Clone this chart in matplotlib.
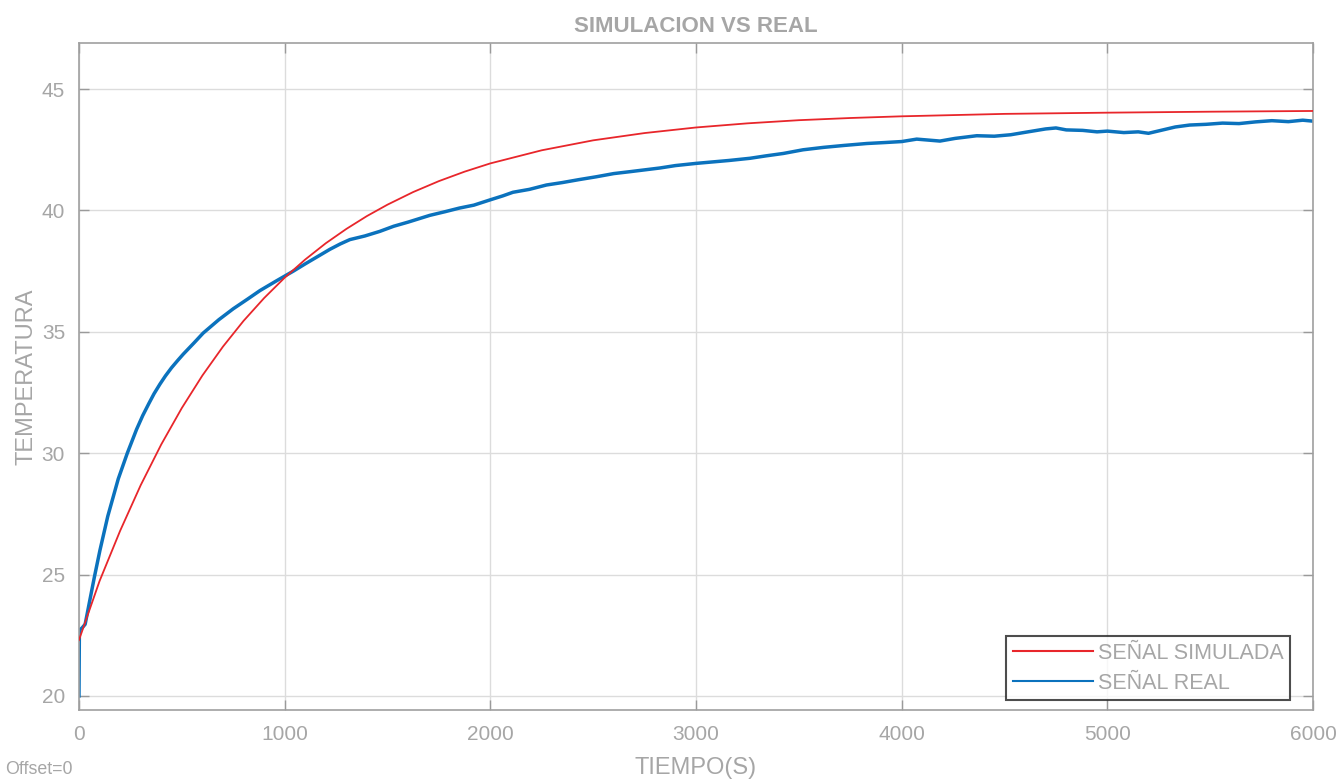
import matplotlib.pyplot as plt

# simulated response
t_sim = [0, 100, 200, 300, 400, 500, 600, 700, 800, 900, 1000, 1100, 1200,
         1300, 1400, 1500, 1625, 1750, 1875, 2000, 2250, 2500, 2750, 3000,
         3250, 3500, 3750, 4000, 4500, 5000, 5500, 6000]
temp_sim = [22.3, 24.73, 26.80, 28.68, 30.36, 31.86, 33.20, 34.39, 35.45, 36.39,
            37.23, 37.98, 38.65, 39.24, 39.77, 40.24, 40.76, 41.21, 41.60, 41.94,
            42.48, 42.89, 43.19, 43.42, 43.59, 43.72, 43.81, 43.88, 43.98, 44.03,
            44.07, 44.10]

t_real = [0, 2, 15, 30, 53, 75, 102, 140, 191, 235, 280, 310, 340, 365, 394,
          420, 450, 480, 507, 560, 604, 680, 750, 820, 880, 960, 1042, 1100,
          1160, 1220, 1270, 1317, 1390, 1463, 1530, 1600, 1706, 1780, 1850,
          1920, 2000, 2060, 2110, 2190, 2273, 2350, 2430, 2516, 2600, 2680,
          2776, 2824, 2900, 3000, 3080, 3160, 3262, 3340, 3425, 3520, 3620,
          3720, 3831, 3920, 4000, 4073, 4130, 4186, 4260, 4365, 4450, 4530,
          4600, 4700, 4750, 4800, 4880, 4950, 5000, 5080, 5150, 5200, 5260,
          5330, 5400, 5480, 5560, 5640, 5720, 5800, 5880, 5950, 6000]
temp_real = [20.0, 22.7, 22.8, 22.95, 23.95, 24.9, 26.0, 27.4, 28.94, 30.0,
             30.98, 31.55, 32.05, 32.45, 32.85, 33.18, 33.52, 33.82, 34.08,
             34.55, 34.95, 35.5, 35.95, 36.35, 36.7, 37.1, 37.5, 37.8, 38.1,
             38.4, 38.62, 38.8, 38.95, 39.14, 39.35, 39.52, 39.8, 39.95, 40.1,
             40.22, 40.44, 40.6, 40.75, 40.87, 41.05, 41.15, 41.27, 41.39,
             41.52, 41.6, 41.7, 41.75, 41.85, 41.94, 42.0, 42.06, 42.15, 42.25,
             42.35, 42.5, 42.6, 42.68, 42.76, 42.8, 42.84, 42.94, 42.9, 42.86,
             42.97, 43.08, 43.06, 43.12, 43.22, 43.36, 43.4, 43.32, 43.3, 43.24,
             43.27, 43.21, 43.24, 43.18, 43.3, 43.44, 43.52, 43.55, 43.6, 43.58,
             43.65, 43.7, 43.66, 43.72, 43.68]

x_ticks = [0, 1000, 2000, 3000, 4000, 5000, 6000]
y_ticks = [20, 25, 30, 35, 40, 45]

text_gray = '#a6a6a6'
plt.rcParams['font.family'] = ['Liberation Sans', 'DejaVu Sans']

fig = plt.figure(figsize=(13.43, 7.82), dpi=100)
ax = fig.add_axes([0.0588, 0.0921, 0.9189, 0.8529])

ax.plot(t_sim, temp_sim, color='#e8262b', lw=1.3, label='SEÑAL SIMULADA', zorder=3)
ax.plot(t_real, temp_real, color='#0b72bd', lw=2.5, label='SEÑAL REAL', zorder=2)

ax.set_xlim(0, 6000)
ax.set_ylim(19.42, 46.9)
ax.set_xticks(x_ticks)
ax.set_yticks(y_ticks)
ax.grid(True, color='#dcdcdc', lw=1.0)
ax.set_axisbelow(True)

ax.tick_params(direction='in', length=7, width=1, colors='#9a9a9a',
               labelcolor=text_gray, labelsize=15, top=True, right=True, pad=11)
ax.tick_params(axis='y', pad=10)
for s in ax.spines.values():
    s.set_color('#a0a0a0')
    s.set_linewidth(1.2)

ax.set_title('SIMULACION VS REAL', color=text_gray, fontsize=16,
             fontweight='bold', pad=8)
ax.set_xlabel('TIEMPO(S)', color=text_gray, fontsize=17, labelpad=9)
ax.set_ylabel('TEMPERATURA', color=text_gray, fontsize=17, labelpad=3)

fig.text(0.004, 0.010, 'Offset=0', color=text_gray, fontsize=12.8)

leg = ax.legend(loc='lower right', bbox_to_anchor=(0.9814, 0.015),
                borderaxespad=0, fontsize=15.5, frameon=True, fancybox=False,
                handlelength=3.7, handletextpad=0.25, borderpad=0.3,
                labelspacing=0.4)
leg.get_frame().set_edgecolor('#202020')
leg.get_frame().set_linewidth(1.5)
for txt in leg.get_texts():
    txt.set_color(text_gray)
for line in leg.get_lines():
    line.set_linewidth(1.5)

fig.savefig('out.png', dpi=100)
